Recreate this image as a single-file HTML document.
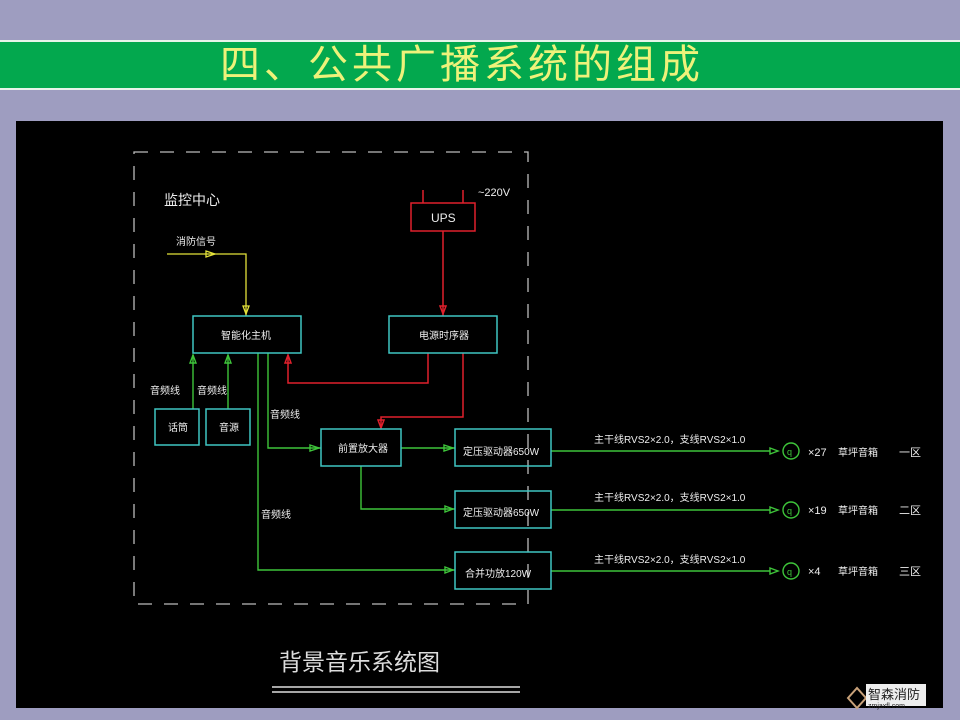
<!DOCTYPE html>
<html><head><meta charset="utf-8"><style>
body{margin:0;width:960px;height:720px;background:#9e9dc0;overflow:hidden;position:relative;font-family:"Liberation Sans","Noto Sans CJK SC",sans-serif}
.band{position:absolute;left:0;top:40px;width:960px;height:46px;background:#03a84e;border-top:2px solid #e8f4ea;border-bottom:2px solid #e8f4ea}
.band div{position:absolute;left:0;width:924px;text-align:center;top:0;line-height:46px;font-size:40px;color:#eef27a;letter-spacing:4px}
.panel{position:absolute;left:16px;top:121px;width:927px;height:587px;background:#000}
</style></head><body>
<div class="band"><div>四、公共广播系统的组成</div></div>
<div class="panel"></div>
<svg width="960" height="720" style="position:absolute;left:0;top:0" font-family="Liberation Sans, Noto Sans CJK SC, sans-serif">
<rect x="134" y="152" width="394" height="452" fill="none" stroke="#bbb" stroke-width="1.3" stroke-dasharray="14,12"/>
<g fill="#eee" font-size="11">
<text x="164" y="205" font-size="14">监控中心</text>
<text x="176" y="245" font-size="10">消防信号</text>
<text x="150" y="394" font-size="10">音频线</text>
<text x="197" y="394" font-size="10">音频线</text>
<text x="270" y="418" font-size="10">音频线</text>
<text x="261" y="518" font-size="10">音频线</text>
<text x="221" y="339" font-size="10">智能化主机</text>
<text x="419" y="339" font-size="10">电源时序器</text>
<text x="431" y="222" font-size="12">UPS</text>
<text x="478" y="196" font-size="11">~220V</text>
<text x="168" y="431" font-size="10">话筒</text>
<text x="219" y="431" font-size="10">音源</text>
<text x="338" y="452" font-size="10">前置放大器</text>
<text x="463" y="455" font-size="10">定压驱动器650W</text>
<text x="463" y="516" font-size="10">定压驱动器650W</text>
<text x="465" y="577" font-size="10">合并功放120W</text>
<text x="594" y="443" font-size="10">主干线RVS2×2.0，支线RVS2×1.0</text>
<text x="594" y="501" font-size="10">主干线RVS2×2.0，支线RVS2×1.0</text>
<text x="594" y="563" font-size="10">主干线RVS2×2.0，支线RVS2×1.0</text>
<text x="808" y="456">×27</text><text x="838" y="456" font-size="10">草坪音箱</text><text x="899" y="456">一区</text>
<text x="808" y="514">×19</text><text x="838" y="514" font-size="10">草坪音箱</text><text x="899" y="514">二区</text>
<text x="808" y="575">×4</text><text x="838" y="575" font-size="10">草坪音箱</text><text x="899" y="575">三区</text>
<text x="279" y="670" font-size="23" fill="#ddd">背景音乐系统图</text>
</g>
<line x1="272" y1="687" x2="520" y2="687" stroke="#ddd" stroke-width="1.5"/>
<line x1="272" y1="692" x2="520" y2="692" stroke="#ddd" stroke-width="1.5"/>
<g stroke="#e4e23a" fill="none" stroke-width="1.3">
<polyline points="167,254 246,254 246,316"/>
<path d="M206,251 L215,254 L206,257 Z M243,306 L246,314 L249,306 Z"/>
</g>
<g stroke="#e0202c" fill="none" stroke-width="1.5">
<rect x="411" y="203" width="64" height="28"/>
<line x1="423" y1="190" x2="423" y2="203"/><line x1="463" y1="190" x2="463" y2="203"/>
<line x1="443" y1="231" x2="443" y2="316"/>
<path d="M440,306 L443,314 L446,306 Z"/>
<polyline points="428,353 428,383 288,383 288,355"/>
<path d="M285,363 L288,355 L291,363 Z"/>
<polyline points="463,353 463,417 381,417 381,428"/>
<path d="M378,420 L381,428 L384,420 Z"/>
</g>
<g stroke="#3ec43a" fill="none" stroke-width="1.4">
<line x1="193" y1="409" x2="193" y2="355"/><path d="M190,363 L193,355 L196,363 Z"/>
<line x1="228" y1="409" x2="228" y2="355"/><path d="M225,363 L228,355 L231,363 Z"/>
<polyline points="268,353 268,448 321,448"/><path d="M310,445 L319,448 L310,451 Z"/>
<polyline points="258,353 258,570 455,570"/><path d="M445,567 L453,570 L445,573 Z"/>
<line x1="401" y1="448" x2="455" y2="448"/><path d="M444,445 L453,448 L444,451 Z"/>
<polyline points="361,466 361,509 455,509"/><path d="M445,506 L453,509 L445,512 Z"/>
<line x1="551" y1="451" x2="770" y2="451"/><path d="M770,448 L778,451 L770,454 Z"/><circle cx="791" cy="451" r="8"/>
<line x1="551" y1="510" x2="770" y2="510"/><path d="M770,507 L778,510 L770,513 Z"/><circle cx="791" cy="510" r="8"/>
<line x1="551" y1="571" x2="770" y2="571"/><path d="M770,568 L778,571 L770,574 Z"/><circle cx="791" cy="571" r="8"/>
</g>
<g fill="#3ec43a" font-size="9"><text x="787" y="455">q</text><text x="787" y="514">q</text><text x="787" y="575">q</text></g>
<g stroke="#3fc6c2" fill="none" stroke-width="1.5">
<rect x="193" y="316" width="108" height="37"/>
<rect x="389" y="316" width="108" height="37"/>
<rect x="155" y="409" width="44" height="36"/>
<rect x="206" y="409" width="44" height="36"/>
<rect x="321" y="429" width="80" height="37"/>
<rect x="455" y="429" width="96" height="37"/>
<rect x="455" y="491" width="96" height="37"/>
<rect x="455" y="552" width="96" height="37"/>
</g>
<path d="M848,698 L857,688 L866,698 L857,708 Z" fill="none" stroke="#c9a27a" stroke-width="2"/>
<rect x="866" y="684" width="60" height="22" fill="#eee"/>
<text x="868" y="699" font-size="13" fill="#222" font-family="Noto Sans CJK SC, sans-serif">智森消防</text>
<text x="868" y="708" font-size="7" fill="#222">zmjaxfl.com</text>
</svg>
</body></html>
